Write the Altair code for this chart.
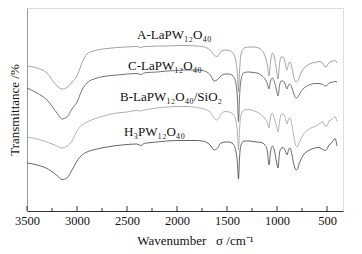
import altair as alt
import pandas as pd

# Wavenumber grid (cm^-1), shared by all spectra
wavenumber = [3500, 3400, 3300, 3200, 3150, 3100, 3050, 3000, 2950, 2900,
              2800, 2700, 2600, 2500, 2400, 2360, 2330, 2300, 2200, 2100,
              2000, 1900, 1800, 1750, 1700, 1660, 1630, 1600, 1560, 1520,
              1480, 1440, 1410, 1395, 1385, 1375, 1360, 1330, 1280, 1240,
              1200, 1160, 1120, 1095, 1080, 1065, 1045, 1025, 1005, 990,
              975, 960, 940, 920, 900, 885, 870, 850, 830, 810,
              795, 780, 760, 740, 700, 650, 620, 600, 580, 560,
              540, 520, 500, 480, 460, 440, 420, 400]

# Transmittance (arbitrary offset units)
t_A = [145, 143, 138, 125, 122, 123.5, 129, 135, 148, 157,
       161, 162.5, 163.5, 164, 164.5, 163.5, 164.5, 164.5, 165, 165,
       165.5, 165.5, 165, 164.5, 163, 160, 156, 154.5, 159.5, 161,
       160.5, 158, 149, 136, 119, 139, 157, 163, 164, 164,
       163.5, 161.5, 155, 145, 135, 149, 158, 153, 141, 132,
       147, 154, 154, 149, 141, 147, 149, 143, 133, 129,
       130, 133, 138, 141.5, 145.5, 148, 148.5, 149, 149.5, 149,
       147.5, 144, 145, 148.5, 149.5, 150, 150.5, 148]

t_C = [123, 118, 111, 98, 92, 94, 102, 109, 121, 128,
       133, 135, 136, 137, 137.5, 136.5, 138, 138.5, 139, 140,
       140.5, 141, 141, 140.5, 139, 135, 130, 131, 135, 137,
       137, 135, 127, 111, 89, 113, 131, 138.5, 139, 138.5,
       138, 136, 132, 127, 122, 130, 133, 129, 121, 115,
       125, 130, 130, 127, 122, 126, 127, 123, 117, 113,
       113.5, 116, 119.5, 122, 125, 127, 127.5, 127.5, 127.5, 127,
       126.5, 125, 125.5, 128, 128.5, 129, 129.5, 129]

t_B = [74, 72, 69, 65, 63, 65, 70, 80, 86, 89,
       93, 96, 98, 99, 100.5, 100, 101, 101.5, 103, 104,
       104.5, 104.5, 103.5, 102.5, 101, 98, 93, 91, 97, 99.5,
       99, 97, 89, 78, 61, 81, 96, 101, 101.5, 100.5,
       99, 96.5, 92, 88, 83, 94, 98, 92, 85, 79,
       89, 96, 97, 94, 87, 92, 93, 86, 73, 65,
       64, 68, 72.5, 76, 80.5, 83.5, 84.5, 85.5, 87, 88.5,
       89.5, 85, 85, 90, 91, 92.5, 94.5, 89.5]

t_H = [48, 46, 42.5, 35.5, 31.5, 33, 41, 50, 56, 59,
       62, 64, 65.5, 66.5, 67, 65.5, 67.5, 68, 69, 70,
       70.5, 70.5, 70.5, 70, 68.5, 65, 61, 62.5, 68, 69,
       69, 67, 59, 47, 32, 53, 66, 70, 70, 69.5,
       69, 68.5, 66, 59, 46, 59, 65, 60, 49, 43,
       58, 62.5, 63.5, 61, 56, 61, 63, 56, 46, 41,
       42, 47, 51.5, 55.5, 59.5, 62, 63, 63.5, 63.5, 62.5,
       61.5, 60.5, 62, 66, 67.5, 70, 72.5, 65]

series_names = ["A", "C", "B", "H"]
series_colors = ["#939393", "#5a5a5a", "#a3a3a3", "#4a4a4a"]

label_text = ["A-LaPW₁₂O₄₀", "C-LaPW₁₂O₄₀", "B-LaPW₁₂O₄₀/SiO₂", "H₃PW₁₂O₄₀"]
label_wn = [2400, 2490, 2570, 2530]
label_t = [172, 141, 110, 75]

major_ticks = [3500, 3000, 2500, 2000, 1500, 1000, 500]
minor_ticks = [3250, 2750, 2250, 1750, 1250, 750]

rows = []
for name, vals in zip(series_names, [t_A, t_C, t_B, t_H]):
    for w, t in zip(wavenumber, vals):
        rows.append({"series": name, "wn": w, "T": t})
df = pd.DataFrame(rows)

labels_df = pd.DataFrame({"label": label_text, "wn": label_wn, "T": label_t})
major_df = pd.DataFrame({"wn": major_ticks})
minor_df = pd.DataFrame({"wn": minor_ticks})

FONT = "Liberation Serif"
xscale = alt.Scale(domain=[340, 3500], reverse=True, nice=False, zero=False)
yscale = alt.Scale(domain=[0, 203], nice=False, zero=False)

lines = alt.Chart(df).mark_line(strokeWidth=0.85, interpolate="monotone").encode(
    x=alt.X("wn:Q", scale=xscale,
            axis=alt.Axis(values=major_ticks, format="d", tickSize=0,
                          labelPadding=3, labelFlush=False, labelFont=FONT,
                          labelFontSize=12.5, labelColor="#111",
                          domainColor="#333",
                          title="Wavenumber\u00a0\u00a0\u00a0σ /cm⁻¹",
                          titleFont=FONT, titleX=168, titleAnchor="middle",
                          titleFontSize=13, titleFontWeight="normal",
                          titleColor="#111", titlePadding=8, grid=False)),
    y=alt.Y("T:Q", scale=yscale,
            axis=alt.Axis(labels=False, ticks=False, grid=False,
                          domainColor="#999", title="Transmittance /%",
                          titleFont=FONT, titleFontSize=13,
                          titleFontWeight="normal", titleColor="#111",
                          titlePadding=6)),
    color=alt.Color("series:N", scale=alt.Scale(domain=series_names,
                                                range=series_colors),
                    legend=None),
    detail="series:N",
)

texts = alt.Chart(labels_df).mark_text(
    align="left", baseline="alphabetic", font=FONT, fontSize=13, color="#111"
).encode(x=alt.X("wn:Q", scale=xscale), y=alt.Y("T:Q", scale=yscale), text="label:N")

major = alt.Chart(major_df).mark_rule(color="#333", strokeWidth=1).encode(
    x=alt.X("wn:Q", scale=xscale), y=alt.value(203), y2=alt.value(198))
minor = alt.Chart(minor_df).mark_rule(color="#333", strokeWidth=1).encode(
    x=alt.X("wn:Q", scale=xscale), y=alt.value(203), y2=alt.value(200))

chart = alt.layer(lines, texts, major, minor).properties(
    width=316, height=203,
    autosize=alt.AutoSizeParams(type="none"),
    padding={"left": 19, "top": 0, "right": 11, "bottom": 40},
).configure_view(stroke="#999", strokeWidth=1).configure(background="white")

chart.save("out.html", embed_options={"renderer": "svg", "actions": False})
